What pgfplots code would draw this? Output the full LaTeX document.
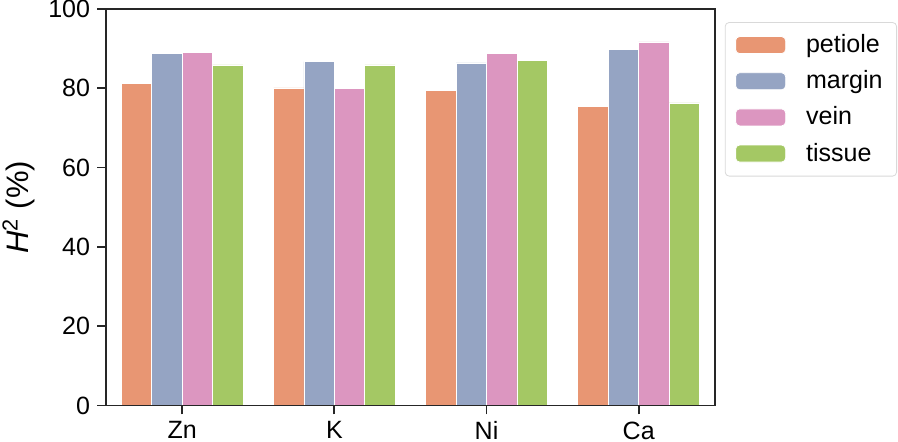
\documentclass[border=0pt]{standalone}
\usepackage{pgfplots}
\pgfplotsset{compat=1.18}
\usepackage{fontspec}
\setmainfont{Liberation Sans}
\definecolor{cpet}{RGB}{232,150,115}
\definecolor{cmar}{RGB}{149,164,195}
\definecolor{cvein}{RGB}{220,150,192}
\definecolor{ctis}{RGB}{164,200,100}
\definecolor{axcol}{RGB}{38,38,38}
\begin{document}
\begin{tikzpicture}
\begin{axis}[
    name=ax,
    width=304pt, height=198pt, scale only axis,
    xmin=-0.5, xmax=3.5,
    ymin=0, ymax=100,
    enlargelimits=false,
    axis on top,
    xtick={0,1,2,3},
    xticklabels={Zn, K, Ni, Ca},
    ytick={0,20,40,60,80,100},
    tick align=outside,
    tick pos=left,
    xtick style={draw=axcol, line width=0.9pt},
    ytick style={draw=axcol, line width=0.9pt},
    major tick length=4.5pt,
    axis line style={draw=axcol, line width=0.9pt},
    tick label style={font=\fontsize{12.5}{14}\selectfont},
    /pgf/number format/assume math mode=true,
    ylabel={\textit{H}\textsuperscript{2} (\%)},
    ylabel style={font=\fontsize{15.5}{17}\selectfont, inner sep=0pt, at={(axis description cs:-0.117,0.5)}, anchor=south},
    legend style={at={(axis description cs:1.0164,0.967)}, anchor=north west,
        draw=black!15, rounded corners=2pt, font=\fontsize{12.5}{14}\selectfont,
        inner xsep=5pt, inner ysep=4pt,
        row sep=3.5pt,
        /tikz/every even column/.append style={column sep=0pt}},
    legend image code/.code={\fill[#1] (0pt,-4.25pt) rectangle (25pt,4.25pt);},
    legend cell align=left,
    every axis plot/.append style={ybar, bar width=0.2, draw=white, line width=0.4pt},
]
\addplot[fill=cpet, bar shift=-0.3] coordinates {(0,81.3) (1,80.1) (2,79.4) (3,75.5)};
\addplot[fill=cmar, bar shift=-0.1] coordinates {(0,88.7) (1,86.7) (2,86.4) (3,89.7)};
\addplot[fill=cvein, bar shift=0.1] coordinates {(0,89.1) (1,80.0) (2,88.9) (3,91.7)};
\addplot[fill=ctis, bar shift=0.3] coordinates {(0,85.9) (1,85.9) (2,87.0) (3,76.3)};
\legend{\hspace{8pt}petiole, \hspace{8pt}margin, \hspace{8pt}vein, \hspace{8pt}tissue}
\end{axis}
\pgfresetboundingbox
\useasboundingbox ([shift={(-53pt,-18pt)}]ax.south west) rectangle ([shift={(91.5pt,4.5pt)}]ax.north east);
\end{tikzpicture}
\end{document}
